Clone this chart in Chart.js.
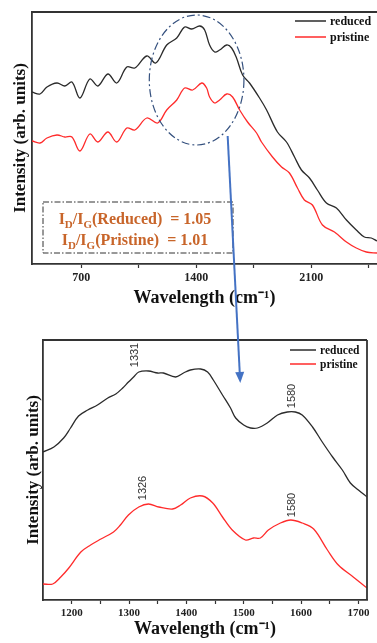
<!DOCTYPE html>
<html>
<head>
<meta charset="utf-8">
<script src="https://cdn.jsdelivr.net/npm/chart.js@4.4.1/dist/chart.umd.min.js"></script>
<style>
  body { margin: 0; background: #fff; }
  #wrap { position: relative; width: 377px; height: 643px; overflow: hidden; }
  #top { position: absolute; left: 0; top: 0; }
  #bottom { position: absolute; left: 0; top: 320px; }
  #overlay { position: absolute; left: 0; top: 0; pointer-events: none; }
</style>
</head>
<body>
<div id="wrap">
  <canvas id="top" width="377" height="310"></canvas>
  <canvas id="bottom" width="377" height="323"></canvas>
  <canvas id="overlay" width="377" height="643"></canvas>
</div>
<script>
// ---- data (wavelength in cm-1, intensity in arbitrary units) ----
const seriesNames = ["reduced", "pristine"];

// full range spectrum (top)
const topReducedX = [400, 449, 491, 552, 600, 643, 692, 752, 801, 862, 916, 977, 1026, 1099, 1153, 1220, 1281, 1329, 1372, 1421, 1451, 1481, 1512, 1542, 1585, 1615, 1645, 1682, 1724, 1785, 1828, 1894, 1949, 1998, 2040, 2089, 2137, 2192, 2253, 2314, 2374, 2423, 2465, 2500];
const topReducedY = [173, 171, 178, 182, 179, 183, 167, 186, 179, 191, 182, 198, 197, 209, 202, 220, 227, 238, 236, 239, 235, 220, 213, 215, 220, 217, 207, 190, 182, 167, 155, 133, 123, 108, 95, 87, 75, 62, 57, 45, 35, 28, 27, 24];
const topPristineX = [400, 449, 491, 552, 600, 643, 692, 752, 801, 862, 916, 977, 1026, 1099, 1165, 1220, 1281, 1329, 1378, 1433, 1463, 1481, 1512, 1542, 1585, 1621, 1664, 1712, 1767, 1797, 1864, 1919, 1967, 2016, 2058, 2107, 2168, 2241, 2314, 2374, 2435, 2500];
const topPristineY = [124, 122, 127, 130, 128, 128, 114, 131, 123, 133, 123, 137, 135, 147, 142, 155, 165, 177, 175, 182, 177, 168, 162, 165, 171, 168, 155, 143, 132, 123, 108, 98, 92, 77, 65, 60, 40, 33, 23, 17, 13, 12];
const topTicks = [700, 1400, 2100];

// D / G band region (bottom)
const bottomReducedX = [1150, 1169, 1186, 1198, 1212, 1228, 1245, 1263, 1277, 1289, 1299, 1308, 1317, 1334, 1350, 1360, 1381, 1395, 1407, 1425, 1437, 1447, 1463, 1477, 1486, 1500, 1512, 1524, 1541, 1559, 1576, 1590, 1602, 1620, 1637, 1655, 1672, 1686, 1700, 1715];
const bottomReducedY = [147, 152, 161, 171, 183, 189, 194, 201, 205, 211, 217, 222, 227, 228, 226, 226, 222, 226, 229, 230, 227, 219, 204, 191, 181, 174, 171, 171, 176, 184, 187, 187, 184, 172, 157, 142, 129, 116, 109, 102];
const bottomPristineX = [1150, 1167, 1181, 1195, 1216, 1233, 1251, 1273, 1285, 1299, 1317, 1334, 1352, 1376, 1390, 1407, 1428, 1446, 1463, 1480, 1503, 1517, 1529, 1543, 1564, 1582, 1602, 1622, 1646, 1665, 1691, 1715];
const bottomPristineY = [15, 15, 22, 31, 47, 54, 60, 67, 74, 84, 92, 95, 92, 90, 94, 101, 103, 96, 82, 69, 59, 61, 61, 69, 76, 79, 76, 70, 49, 34, 22, 11];
const bottomTicks = [1200, 1300, 1400, 1500, 1600, 1700];
const peakLabels = ["1331", "1580", "1326", "1580"];

// I_D / I_G ratios
const ratioSamples = ["Reduced", "Pristine"];
const ratioValues = [1.05, 1.01];

// ---- helpers ----
const serif = "'Liberation Serif', 'Times New Roman', serif";
const sans = "'Liberation Sans', Arial, sans-serif";
const lineColors = ["#2b2b2b", "#ff2b2b"];
const xTitle = "Wavelength (cm\u207B\u00B9)";
const yTitle = "Intensity (arb. units)";

const pts = (xs, ys) => xs.map((x, i) => ({ x: x, y: ys[i] }));

function lineSet(label, data, color) {
  return {
    label: label,
    data: data,
    borderColor: color,
    borderWidth: 1.3,
    pointRadius: 0,
    tension: 0.35,
    fill: false
  };
}

function drawLegend(chart, x, y, lineLen, rowH, fontSize) {
  const ctx = chart.ctx;
  ctx.save();
  ctx.font = "bold " + fontSize + "px " + serif;
  ctx.textBaseline = "middle";
  ctx.textAlign = "left";
  chart.data.datasets.forEach((ds, i) => {
    const yy = y + i * rowH;
    ctx.strokeStyle = ds.borderColor;
    ctx.lineWidth = 1.5;
    ctx.beginPath();
    ctx.moveTo(x, yy);
    ctx.lineTo(x + lineLen, yy);
    ctx.stroke();
    ctx.fillStyle = "#111";
    ctx.fillText(ds.label, x + lineLen + 4, yy + 1);
  });
  ctx.restore();
}

function drawEdges(chart, sides) {
  const { ctx, chartArea: a } = chart;
  ctx.save();
  ctx.strokeStyle = "#333";
  ctx.lineWidth = 1.8;
  ctx.beginPath();
  if (sides.includes("top")) { ctx.moveTo(a.left, a.top); ctx.lineTo(a.right, a.top); }
  if (sides.includes("right")) { ctx.moveTo(a.right, a.top); ctx.lineTo(a.right, a.bottom); }
  ctx.stroke();
  ctx.restore();
}

// text with subscripts, parts = [[text, isSub], ...], centered at cx
function drawRich(ctx, parts, cx, baseline, size, subSize) {
  const big = "bold " + size + "px " + serif;
  const small = "bold " + subSize + "px " + serif;
  let total = 0;
  parts.forEach(p => { ctx.font = p[1] ? small : big; total += ctx.measureText(p[0]).width; });
  let x = cx - total / 2;
  ctx.textAlign = "left";
  ctx.textBaseline = "alphabetic";
  parts.forEach(p => {
    ctx.font = p[1] ? small : big;
    ctx.fillText(p[0], x, baseline + (p[1] ? 4 : 0));
    x += ctx.measureText(p[0]).width;
  });
}

function scalesFor(cfg) {
  return {
    x: {
      type: "linear",
      min: cfg.xMin,
      max: cfg.xMax,
      afterFit: s => { s.height = cfg.xHeight; },
      // major ticks carry labels, minor ticks sit half way between them
      afterBuildTicks: s => {
        const t = [];
        for (let v = cfg.labels[0] - cfg.step; v <= cfg.xMax; v += cfg.step) {
          if (v > cfg.xMin) t.push({ value: v });
        }
        s.ticks = t;
      },
      border: { display: true, color: "#333", width: 1.8 },
      grid: { display: true, drawOnChartArea: false, drawTicks: true, tickLength: 4, color: "#333", tickWidth: 1.2 },
      ticks: {
        autoSkip: false,
        maxRotation: 0,
        padding: 3,
        color: "#222",
        font: { family: serif, size: cfg.tickSize, weight: "bold" },
        callback: v => (cfg.labels.includes(v) ? String(v) : "")
      },
      title: {
        display: true,
        text: xTitle,
        color: "#111",
        font: { family: serif, size: 18, weight: "bold" },
        padding: { top: 0, bottom: cfg.xTitlePad }
      }
    },
    y: {
      type: "linear",
      min: cfg.yMin,
      max: cfg.yMax,
      afterFit: s => { s.width = cfg.yWidth; },
      border: { display: true, color: "#333", width: 1.8 },
      grid: { display: false },
      ticks: { display: false },
      title: {
        display: true,
        text: yTitle,
        color: "#111",
        font: { family: serif, size: 17, weight: "bold" },
        padding: { top: cfg.yTitlePad, bottom: 0 }
      }
    }
  };
}

// ---- top chart ----
const topExtras = {
  id: "topExtras",
  afterDraw(chart) {
    const { ctx, chartArea: a, scales: { x, y } } = chart;
    drawEdges(chart, ["top"]);
    drawLegend(chart, a.right - 82, a.top + 9, 31, 16, 12);

    // dash-dot ellipse around the D/G region
    const cx = x.getPixelForValue(1402), cy = y.getPixelForValue(185);
    const rx = x.getPixelForValue(1690) - cx, ry = y.getPixelForValue(120) - cy;
    ctx.save();
    ctx.strokeStyle = "#34507e";
    ctx.lineWidth = 1.2;
    ctx.setLineDash([8, 3, 2, 3]);
    ctx.beginPath();
    ctx.ellipse(cx, cy, rx, Math.abs(ry), 0, 0, Math.PI * 2);
    ctx.stroke();

    // ratio box
    const bx = a.left + 11, by = a.bottom - 62, bw = 190, bh = 51;
    ctx.strokeStyle = "#333";
    ctx.lineWidth = 1;
    ctx.setLineDash([6, 2, 1.5, 2]);
    ctx.strokeRect(bx, by, bw, bh);
    ctx.setLineDash([]);
    ctx.fillStyle = "#c8652a";
    ratioSamples.forEach((name, i) => {
      drawRich(ctx, [["I", 0], ["D", 1], ["/I", 0], ["G", 1],
        ["(" + name + ")  = " + ratioValues[i].toFixed(2), 0]],
        bx + bw / 2 - 3, by + 22 + i * 21, 16, 11);
    });
    ctx.restore();
  }
};

const topChart = new Chart(document.getElementById("top"), {
  type: "line",
  data: {
    datasets: [
      lineSet(seriesNames[0], pts(topReducedX, topReducedY), lineColors[0]),
      lineSet(seriesNames[1], pts(topPristineX, topPristineY), lineColors[1])
    ]
  },
  options: {
    responsive: false,
    animation: false,
    layout: { padding: { top: 12, left: 0, right: 0, bottom: 0 } },
    plugins: { legend: { display: false }, tooltip: { enabled: false } },
    scales: scalesFor({
      xMin: 400, xMax: 2500, step: 350, labels: topTicks, tickSize: 12,
      xHeight: 46, xTitlePad: 1, yMin: 1, yMax: 253, yWidth: 32, yTitlePad: 10
    })
  },
  plugins: [topExtras]
});

// ---- bottom chart ----
const bottomExtras = {
  id: "bottomExtras",
  afterDraw(chart) {
    const { ctx, chartArea: a, scales: { x, y } } = chart;
    drawEdges(chart, ["top", "right"]);
    drawLegend(chart, a.right - 77, a.top + 10, 26, 14, 11.5);

    const spots = [[1310, 244], [1585, 203], [1324, 111], [1585, 94]];
    ctx.save();
    ctx.fillStyle = "#333";
    ctx.font = "11px " + sans;
    ctx.textAlign = "center";
    ctx.textBaseline = "middle";
    spots.forEach((s, i) => {
      ctx.save();
      ctx.translate(x.getPixelForValue(s[0]), y.getPixelForValue(s[1]));
      ctx.rotate(-Math.PI / 2);
      ctx.fillText(peakLabels[i], 0, 0);
      ctx.restore();
    });
    ctx.restore();
  }
};

const bottomChart = new Chart(document.getElementById("bottom"), {
  type: "line",
  data: {
    datasets: [
      lineSet(seriesNames[0], pts(bottomReducedX, bottomReducedY), lineColors[0]),
      lineSet(seriesNames[1], pts(bottomPristineX, bottomPristineY), lineColors[1])
    ]
  },
  options: {
    responsive: false,
    animation: false,
    layout: { padding: { top: 20, left: 0, right: 10, bottom: 0 } },
    plugins: { legend: { display: false }, tooltip: { enabled: false } },
    scales: scalesFor({
      xMin: 1150, xMax: 1715, step: 50, labels: bottomTicks, tickSize: 11,
      xHeight: 43, xTitlePad: 3, yMin: -1, yMax: 259, yWidth: 43, yTitlePad: 23
    })
  },
  plugins: [bottomExtras]
});

// ---- arrow linking the two panels ----
(function drawArrow() {
  const ov = document.getElementById("overlay").getContext("2d");
  const topCanvas = document.getElementById("top");
  const botCanvas = document.getElementById("bottom");
  const x0 = topCanvas.offsetLeft + topChart.scales.x.getPixelForValue(1591);
  const y0 = topCanvas.offsetTop + topChart.scales.y.getPixelForValue(129);
  const x1 = botCanvas.offsetLeft + bottomChart.scales.x.getPixelForValue(1494);
  const y1 = botCanvas.offsetTop + bottomChart.scales.y.getPixelForValue(216);
  const len = Math.hypot(x1 - x0, y1 - y0);
  const ux = (x1 - x0) / len, uy = (y1 - y0) / len;
  const bx = x1 - ux * 11, by = y1 - uy * 11;
  ov.strokeStyle = "#4472c4";
  ov.fillStyle = "#4472c4";
  ov.lineWidth = 2;
  ov.beginPath();
  ov.moveTo(x0, y0);
  ov.lineTo(bx, by);
  ov.stroke();
  ov.beginPath();
  ov.moveTo(x1, y1);
  ov.lineTo(bx - uy * 4.5, by + ux * 4.5);
  ov.lineTo(bx + uy * 4.5, by - ux * 4.5);
  ov.closePath();
  ov.fill();
})();
</script>
</body>
</html>
